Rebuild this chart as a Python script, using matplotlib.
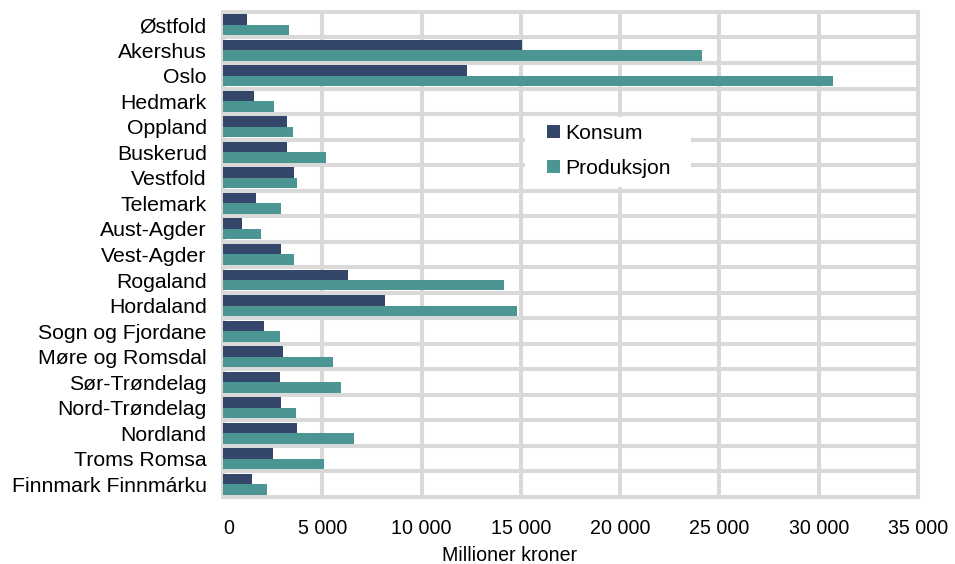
import numpy as np
import matplotlib
matplotlib.use("Agg")
import matplotlib.pyplot as plt
from matplotlib.patches import Rectangle
from matplotlib.ticker import FuncFormatter

# Millioner kroner per fylke
fylker = ["Østfold", "Akershus", "Oslo", "Hedmark", "Oppland", "Buskerud",
          "Vestfold", "Telemark", "Aust-Agder", "Vest-Agder", "Rogaland",
          "Hordaland", "Sogn og Fjordane", "Møre og Romsdal", "Sør-Trøndelag",
          "Nord-Trøndelag", "Nordland", "Troms Romsa", "Finnmark Finnmárku"]
konsum = [1200, 15050, 12300, 1550, 3200, 3200, 3600, 1650, 950, 2900,
          6300, 8150, 2050, 3000, 2850, 2900, 3750, 2500, 1450]
produksjon = [3300, 24100, 30700, 2550, 3550, 5200, 3750, 2900, 1900, 3600,
              14150, 14800, 2850, 5550, 5950, 3700, 6600, 5100, 2200]

dark = "#344669"
teal = "#4b9592"
grid = "#d9d9d9"

plt.rcParams["font.family"] = ["Liberation Sans", "DejaVu Sans"]

fig = plt.figure(figsize=(9.55, 5.64), dpi=100)
ax = fig.add_axes([0.2335, 0.1188, 0.7278, 0.86])

n = len(fylker)
y = np.arange(n)
h = 0.41
ax.barh(y - h / 2, konsum, height=h, color=dark, label="Konsum", zorder=3)
ax.barh(y + h / 2, produksjon, height=h, color=teal, label="Produksjon", zorder=3)

ax.set_xlim(0, 35000)
ax.set_ylim(n - 0.5, -0.5)

# grid: vertical at every 5000, horizontal between categories
lw = 2.9
for xv in range(5000, 35000, 5000):
    ax.axvline(xv, color=grid, lw=lw, zorder=1)
for yv in np.arange(0.5, n - 1, 1.0):
    ax.axhline(yv, color=grid, lw=lw, zorder=1)
for s in ax.spines.values():
    s.set_color(grid)
    s.set_linewidth(lw)

ax.set_yticks(y)
ax.set_yticklabels(fylker, fontsize=15.3)
ax.set_xticks(range(0, 35001, 5000))
ax.xaxis.set_major_formatter(FuncFormatter(lambda v, p: f"{int(v):,}".replace(",", " ")))
ax.tick_params(axis="x", length=0, pad=16, labelsize=14.1)
ax.tick_params(axis="y", length=0, pad=11.7)
fig.canvas.draw()
ax.get_xticklabels()[0].set_horizontalalignment("left")

ax.set_xlabel("Millioner kroner", fontsize=14.1)
ax.xaxis.set_label_coords(0.413, -0.1)

# white box behind the legend
ax.add_patch(Rectangle((0.4345, 0.6392), 0.2389, 0.1443, transform=ax.transAxes,
                       facecolor="white", edgecolor="none", zorder=4))
leg = ax.legend(loc="upper left", bbox_to_anchor=(0.4658, 0.769),
                borderaxespad=0, borderpad=0, fontsize=15.2, frameon=False,
                handlelength=0.62, handleheight=0.62, handletextpad=0.28,
                labelspacing=0.76)
leg.set_zorder(5)

fig.savefig("out.png", dpi=100)
